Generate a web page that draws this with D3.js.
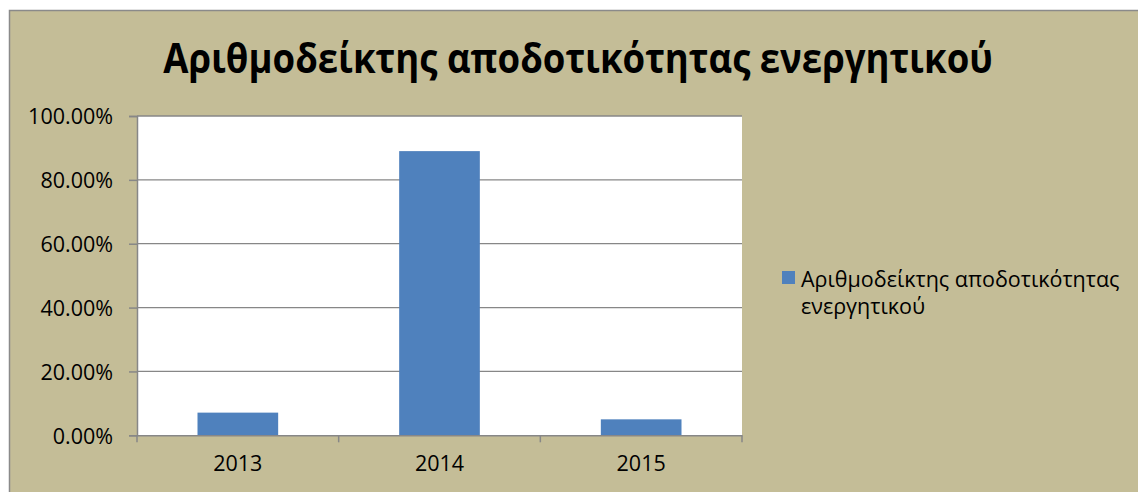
<!DOCTYPE html>
<html>
<head>
<meta charset="utf-8">
<script src="https://cdn.jsdelivr.net/npm/d3@7"></script>
<style>
  html, body { margin: 0; padding: 0; background: #ffffff; }
  svg { display: block; }
</style>
</head>
<body>
<svg id="chart" width="1138" height="492"></svg>
<script>
// Efficiency index per year (fraction of 1)
const years = ["2013", "2014", "2015"];
const indexValues = [0.071, 0.890, 0.050];
const yTicks = [0, 0.2, 0.4, 0.6, 0.8, 1.0];
const titleText = "Αριθμοδείκτης αποδοτικότητας ενεργητικού";
const legendLines = ["Αριθμοδείκτης αποδοτικότητας", "ενεργητικού"];

const W = 1138, H = 492;
const plot = { left: 137, right: 742, top: 116, bottom: 435.3 };
const bg = "#c4bd97", barColor = "#4f81bd", gridColor = "#878787";
const font = "'Open Sans', 'Noto Sans', sans-serif";

const svg = d3.select("#chart");

// chart area background with its border
svg.append("rect")
  .attr("x", 9.5).attr("y", 10.5)
  .attr("width", W + 10).attr("height", H + 10)
  .attr("fill", bg).attr("stroke", "#8a8a8a").attr("stroke-width", 1.5);

// title, fitted to its width and set a little taller
const title = svg.append("text")
  .attr("x", 0).attr("y", 0)
  .attr("text-anchor", "middle")
  .attr("font-family", font).attr("font-weight", "bold")
  .attr("font-size", 40).attr("fill", "#000")
  .text(titleText);
const tw = title.node().getComputedTextLength();
title.attr("font-size", 40 * 830 / tw)
  .attr("transform", "translate(578,73) scale(1,1.12)");

const x = d3.scaleBand().domain(years)
  .range([plot.left, plot.right])
  .paddingInner(0.6).paddingOuter(0.3);
const y = d3.scaleLinear().domain([0, 1]).range([plot.bottom, plot.top]);

// plot area
svg.append("rect")
  .attr("x", plot.left).attr("y", plot.top)
  .attr("width", plot.right - plot.left).attr("height", plot.bottom - plot.top)
  .attr("fill", "#ffffff");

// horizontal gridlines
svg.append("g").selectAll("line").data(yTicks.filter(d => d > 0)).join("line")
  .attr("x1", plot.left).attr("x2", plot.right)
  .attr("y1", d => y(d)).attr("y2", d => y(d))
  .attr("stroke", gridColor).attr("stroke-width", 1.3);

// bars
svg.append("g").selectAll("rect").data(years).join("rect")
  .attr("x", d => x(d))
  .attr("width", x.bandwidth())
  .attr("y", (d, i) => y(indexValues[i]))
  .attr("height", (d, i) => y(0) - y(indexValues[i]))
  .attr("fill", barColor);

// y axis
const yAxis = d3.axisLeft(y).tickValues(yTicks)
  .tickFormat(d => (d * 100).toFixed(2) + "%")
  .tickSize(8).tickPadding(16);
const gy = svg.append("g").attr("transform", `translate(${plot.left},0)`).call(yAxis);
gy.select(".domain").attr("stroke", gridColor).attr("stroke-width", 1.5);
gy.selectAll(".tick line").attr("stroke", gridColor).attr("stroke-width", 1.5);
gy.selectAll(".tick text")
  .attr("font-family", font).attr("font-size", 21.5).attr("fill", "#000")
  .attr("dy", "0.36em");

// x axis with tick marks at category boundaries
const xAxis = d3.axisBottom(x).tickSize(0).tickPadding(20);
const gx = svg.append("g").attr("transform", `translate(0,${plot.bottom})`).call(xAxis);
gx.select(".domain").attr("stroke", gridColor).attr("stroke-width", 1.5);
gx.selectAll(".tick text")
  .attr("font-family", font).attr("font-size", 21.5).attr("fill", "#000");
const bounds = [plot.left].concat(years.map(d => x(d) + x.bandwidth() + x.step() * x.paddingInner() / 2));
bounds[bounds.length - 1] = plot.right;
gx.selectAll(".bound").data(bounds).join("line")
  .attr("class", "bound")
  .attr("x1", d => d).attr("x2", d => d)
  .attr("y1", 0).attr("y2", 7)
  .attr("stroke", gridColor).attr("stroke-width", 1.5);

// legend
const lg = svg.append("g");
lg.append("rect")
  .attr("x", 782).attr("y", 271).attr("width", 13).attr("height", 13)
  .attr("fill", barColor);
lg.selectAll("text").data(legendLines).join("text")
  .attr("x", 801).attr("y", (d, i) => 287 + i * 27)
  .attr("font-family", font).attr("font-size", 21.5).attr("fill", "#000")
  .text(d => d);
</script>
</body>
</html>
